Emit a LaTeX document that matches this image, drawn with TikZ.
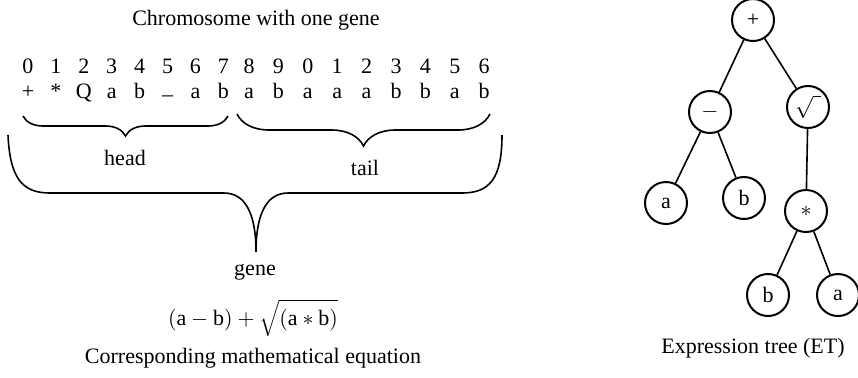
\documentclass[tikz,border=0pt]{standalone}
\usepackage{fontspec}
\setmainfont{Liberation Serif}
\usetikzlibrary{decorations.pathreplacing}
\tikzset{
  every picture/.style={line width=0.8pt},
  lbl/.style={font=\fontsize{11}{13}\selectfont},
  op/.style={draw, circle, line width=1pt, minimum size=21pt, inner sep=0pt, font=\fontsize{11}{13}\selectfont},
  cbrace/.style={decorate, decoration={brace, mirror, amplitude=#1}},
}

\begin{document}
\begin{tikzpicture}[x=0.5pt, y=-0.5pt]
  \useasboundingbox (0,0) rectangle (858,377);
  % chromosome
  \node[lbl] (title) at (256,20) {Chromosome with one gene};
  \foreach \d/\s [count=\i from 0] in {0/+,1/*,2/Q,3/a,4/b,5/\raisebox{-0.35ex}{--},6/a,7/b,
      8/a,9/b,0/a,1/a,2/a,3/b,4/b,5/a,6/b} {
    \pgfmathsetmacro\xx{\i<8 ? 28+27.9*\i : 249+29.4*(\i-8)}
    \node[lbl, anchor=base] (d\i) at (\xx, 73) {\d};
    \node[lbl, anchor=base] (s\i) at (\xx, 98) {\s};
  }
  \draw[cbrace=10pt] (23,116) -- (228,116);
  \draw[cbrace=16pt] (237,114) -- (490,114);
  \node[lbl] (head) at (125,158) {head};
  \node[lbl] (tail) at (365,168) {tail};
  \draw (8,135) .. controls (10,178) and (22,193) .. (50,193) -- (224,193)
    .. controls (246,193) and (256,215) .. (256,252)
    .. controls (256,215) and (266,193) .. (288,193) -- (462,193)
    .. controls (490,193) and (502,178) .. (502,135);
  \node[lbl] (gene) at (255,272) {gene};
  \node[lbl] (eqn) at (253,318)
    {$\bigl(\mbox{a} - \mbox{b}\bigr) + \sqrt{\bigl(\mbox{a} * \mbox{b}\bigr)}$};
  \node[lbl] (caption) at (253,358) {Corresponding mathematical equation};
  % expression tree
  \node[op] (plus) at (753,20) {+};
  \node[op] (minus) at (710,112) {$-$};
  \node[op] (root) at (808,107) {$\sqrt{\phantom{i}}$};
  \node[op] (a1) at (666,203) {a};
  \node[op] (b1) at (744,198) {b};
  \node[op] (times) at (806,211) {$*$};
  \node[op] (b2) at (768,295) {b};
  \node[op] (a2) at (838,295) {a};
  \draw (plus) -- (minus);
  \draw (plus) -- (root);
  \draw (minus) -- (a1);
  \draw (minus) -- (b1);
  \draw (root) -- (times);
  \draw (times) -- (b2);
  \draw (times) -- (a2);
  \node[lbl] (etlabel) at (753,348) {Expression tree (ET)};
\end{tikzpicture}
\end{document}
